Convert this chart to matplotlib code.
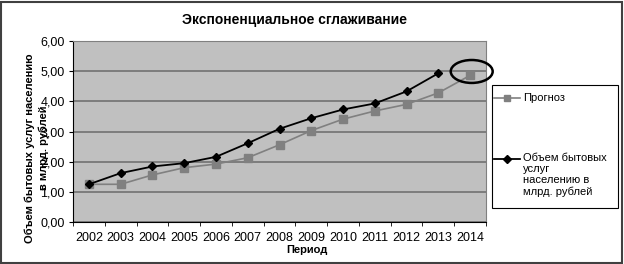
import matplotlib.pyplot as plt
from matplotlib.patches import Ellipse, Rectangle
from matplotlib.lines import Line2D

plt.rcParams['font.family'] = ['Liberation Sans', 'DejaVu Sans']

# dados
anos = ['2002', '2003', '2004', '2005', '2006', '2007', '2008',
        '2009', '2010', '2011', '2012', '2013', '2014']
prognoz = [1.25, 1.25, 1.56, 1.80, 1.92, 2.13, 2.56, 3.03, 3.41, 3.68, 3.90, 4.28, 4.86]
obem = [1.25, 1.62, 1.84, 1.95, 2.16, 2.61, 3.09, 3.44, 3.73, 3.93, 4.33, 4.93]
yticks = [0, 1, 2, 3, 4, 5, 6]

fig = plt.figure(figsize=(6.24, 2.64), dpi=100)
ax = fig.add_axes([73/624, 1 - 222/264, 413/624, 181/264])
ax.set_facecolor('#c0c0c0')

x_all = list(range(len(anos)))
ax.plot(x_all, prognoz, color='#808080', marker='s', markersize=6,
        linewidth=1.2, zorder=3)
ax.plot(x_all[:len(obem)], obem, color='black', marker='D', markersize=4.5,
        linewidth=1.3, zorder=4)

# elipse em volta do ponto de 2014
ax.add_patch(Ellipse((12.05, 4.99), 1.32, 0.76, fill=False, edgecolor='black',
                     linewidth=1.8, clip_on=False, zorder=5))

ax.set_xlim(-0.5, len(anos) - 0.5)
ax.set_ylim(0, 6)
ax.set_yticks(yticks)
ax.set_yticklabels([f'{v:.2f}'.replace('.', ',') for v in yticks], fontsize=9)
ax.set_xticks(x_all)
ax.set_xticklabels(anos, fontsize=9)
ax.set_xticks([i - 0.5 for i in range(len(anos) + 1)], minor=True)
ax.tick_params(axis='x', which='major', length=0, pad=7)
ax.tick_params(axis='x', which='minor', length=3, direction='out', color='black')
ax.tick_params(axis='y', length=3, direction='out', color='black', pad=3)
ax.grid(axis='y', color='#6a6a6a', linewidth=1.1)
ax.set_axisbelow(True)
for s in ['top', 'right']:
    ax.spines[s].set_color('#808080')
for s in ['left', 'bottom']:
    ax.spines[s].set_color('black')

fig.text(307/624, 1 - 250/264, 'Период', ha='center', va='center',
         fontsize=8, fontweight='bold')
fig.text(30/624, 1 - 148/264, 'Объем бытовых услуг населению',
         rotation=90, ha='center', va='center', fontsize=8, fontweight='bold')
fig.text(44/624, 1 - 148/264, 'в млрд. рублей',
         rotation=90, ha='center', va='center', fontsize=8, fontweight='bold')

fig.text(294/624, 1 - 20/264, 'Экспоненциальное сглаживание',
         ha='center', va='center', fontsize=10, fontweight='bold')

# legenda manual
fig.add_artist(Rectangle((492/624, 1 - 208/264), 126/624, 123/264,
                         transform=fig.transFigure, facecolor='white',
                         edgecolor='black', linewidth=0.8))
y1 = 1 - 98/264
fig.add_artist(Line2D([494/624, 520/624], [y1, y1], color='#808080',
                      linewidth=1.2, transform=fig.transFigure))
fig.add_artist(Line2D([507/624], [y1], color='#808080', marker='s',
                      markersize=5, transform=fig.transFigure))
fig.text(523/624, y1, 'Прогноз', fontsize=8, va='center')
y2 = 1 - 159/264
fig.add_artist(Line2D([494/624, 520/624], [y2, y2], color='black',
                      linewidth=1.3, transform=fig.transFigure))
fig.add_artist(Line2D([507/624], [y2], color='black', marker='D',
                      markersize=4, transform=fig.transFigure))
fig.text(523/624, y2 + 6/264, 'Объем бытовых\nуслуг\nнаселению в\nмлрд. рублей',
         fontsize=8, va='top', linespacing=1.15)

# moldura externa
fig.add_artist(Rectangle((1/624, 1/264), 621/624, 261/264,
                         transform=fig.transFigure, fill=False,
                         edgecolor='#404040', linewidth=1.5))

fig.savefig('out.png', dpi=100)
